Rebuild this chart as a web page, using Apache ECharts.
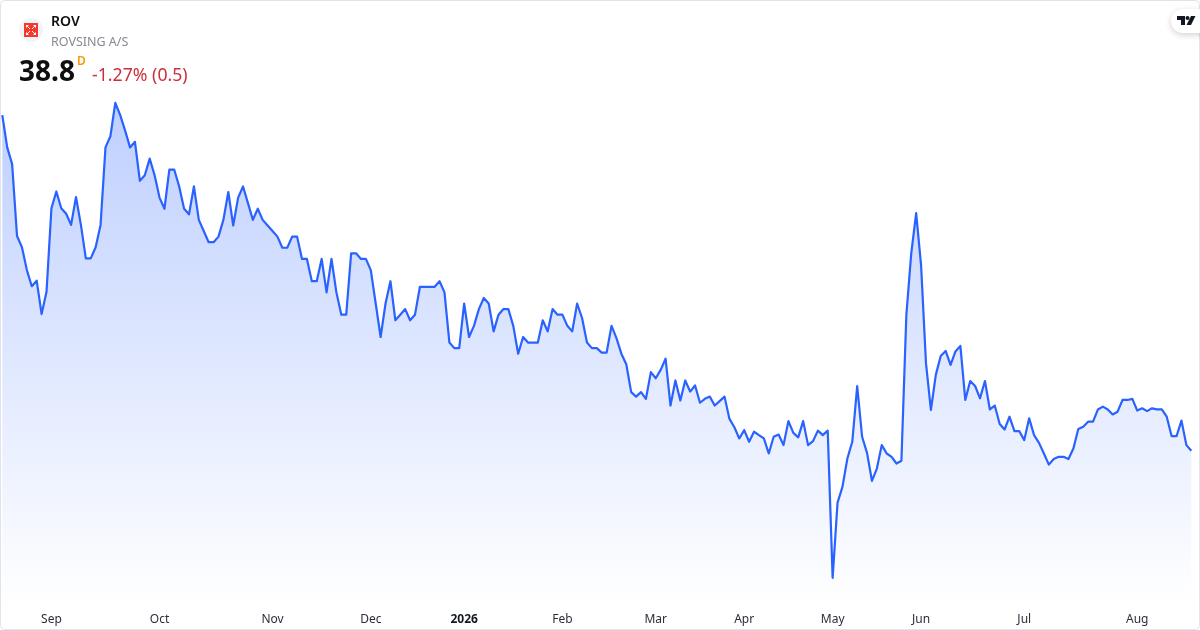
<!DOCTYPE html>
<html><head><meta charset="utf-8">
<style>html,body{margin:0;padding:0;background:#fff}#c{width:1200px;height:630px}</style>
<script src="https://cdn.jsdelivr.net/npm/echarts@6/dist/echarts.min.js"></script>
</head><body><div id="c"></div>
<script>
const symbol = 'ROV';
const companyName = 'ROVSING A/S';
const lastPrice = '38.8';
const changeText = '-1.27% (0.5)';
const prices = [
68.9,66,64.5,58.05,57.05,55,53.55,54.05,51.05,53.05,60.55,62.05,60.55,60.05,59.05,61.55,59.05,56.05,56.05,57.05,59.05,66,67,70,68.9,67.5,66,66.5,63,63.5,65,63.5,61.5,60.5,64,64,62.5,60.5,60,62.5,59.5,58.5,57.5,57.5,58,59.5,62,59,61.5,62.5,61,59.5,60.5,59.5,59,58.5,58,57,57,58,58,
56,56,54,54,56,53,56,53,51,51,56.5,56.5,56,56,55,52,49,52,54,50.5,51,51.5,50.5,51,53.5,53.5,53.5,53.5,54,53,48.5,48,48,52,49,50,51.5,52.5,52,49.5,51,51.5,51.5,50,47.5,49,48.5,48.5,48.5,50.5,49.5,51.5,51,51,50,49.5,52,50.7,48.5,48,48,
47.6,47.6,50,48.9,47.5,46.55,44.05,43.65,44.05,43.45,45.85,45.3,46.05,47.05,42.85,45.1,43.3,45.1,44.1,44.65,43.1,43.45,43.65,42.85,43.25,43.65,41.65,40.9,39.9,40.65,39.6,40.5,40.2,39.9,38.55,40.05,40.25,39.3,41.45,40.4,40,41.45,39.3,39.65,40.6,40.2,40.6,27.4,34.15,35.55,38.1,39.6,44.6,40.05,38.6,36.1,37.2,39.3,38.55,38.25,37.65,37.9,
50.95,56.5,60.1,55.45,46.65,42.45,45.6,47.3,47.75,46.5,47.7,48.2,43.35,45.05,44.6,43.5,45.05,42.5,42.85,41.2,40.7,41.85,40.55,40.55,39.75,41.7,40.2,39.5,38.55,37.55,38.05,38.25,38.25,38.05,39,40.75,40.95,41.4,41.4,42.5,42.75,42.5,42.05,42.3,43.35,43.35,43.45,42.4,42.6,42.35,42.6,42.5,42.5,41.85,40.1,40.1,41.5,39.3,38.8
];
const monthLabels = ['Sep','Oct','Nov','Dec','2026','Feb','Mar','Apr','May','Jun','Jul','Aug'];
const monthStarts = [10,32,55,75,94,114,133,151,169,187,208,231];
const categories = prices.map((_, i) => { const k = monthStarts.indexOf(i); return k >= 0 ? monthLabels[k] : ''; });
const FONT = '"Noto Sans","Open Sans",sans-serif';
const chart = echarts.init(document.getElementById('c'), null, {renderer:'canvas', width:1200, height:630});
const tri = (pts) => ({type:'polygon',z:53,shape:{points:pts},style:{fill:'#fff'}});
const ray = (p) => ({type:'polyline',z:53,shape:{points:p},style:{stroke:'#fff',lineWidth:1}});
chart.setOption({
  animation:false,
  backgroundColor:'#fff',
  grid:{left:2.3, width:1189, top:47.07, height:557.5, containLabel:false},
  xAxis:{type:'category', data:categories, boundaryGap:false,
    axisLine:{show:false}, axisTick:{show:false}, splitLine:{show:false},
    axisLabel:{interval:(i,v)=>v!=='', margin:9, hideOverlap:false, color:'#2a2e39', fontSize:12, fontFamily:FONT,
      formatter:v=>v==='2026'?'{b|2026}':v, rich:{b:{fontWeight:700,color:'#131722',fontSize:12,fontFamily:FONT}}}},
  yAxis:{type:'value', min:25, max:75, show:false},
  series:[{type:'line', data:prices, symbol:'none', smooth:false, clip:false,
    lineStyle:{color:'#2962FF', width:2.2, join:'round'},
    areaStyle:{origin:'start', opacity:1, color:new echarts.graphic.LinearGradient(0,0,0,1,[{offset:0,color:'rgba(41,98,255,0.3)'},{offset:1,color:'rgba(41,98,255,0)'}])}
  }],
  graphic:[
    {type:'rect',silent:true,z:50,shape:{x:.5,y:.5,width:1199,height:629,r:4},style:{fill:'none',stroke:'#e0e3eb',lineWidth:1}},
    {type:'circle',z:51,shape:{cx:31,cy:30,r:12},style:{fill:'#f0f3fa'}},
    {type:'rect',z:52,shape:{x:24,y:23,width:14,height:14},style:{fill:'#f7372a'}},
    tri([[26,25],[29,25],[26,28]]),tri([[36,25],[33,25],[36,28]]),tri([[26,35],[29,35],[26,32]]),tri([[36,35],[33,35],[36,32]]),
    ray([[27,26],[30,29]]),ray([[35,26],[32,29]]),ray([[27,34],[30,31]]),ray([[35,34],[32,31]]),
    {type:'text',z:53,style:{x:51,y:22,text:symbol,fill:'#0f0f0f',font:'600 14px '+FONT,textVerticalAlign:'middle'}},
    {type:'text',z:53,style:{x:51,y:42,text:companyName,fill:'#868993',font:'12.5px '+FONT,textVerticalAlign:'middle'}},
    {type:'text',z:53,style:{x:19,y:73.5,text:lastPrice,fill:'#0f0f0f',font:'700 28px '+FONT,textVerticalAlign:'middle'}},
    {type:'text',z:53,style:{x:77,y:62,text:'D',fill:'#ff9800',font:'600 12px '+FONT,textVerticalAlign:'middle'}},
    {type:'text',z:53,style:{x:92,y:76,text:changeText,fill:'#cc2f3c',font:'17.7px '+FONT,textVerticalAlign:'middle'}},
    {type:'rect',z:54,shape:{x:1171,y:9,width:40,height:24,r:12},style:{fill:'#fff',shadowBlur:6,shadowColor:'rgba(0,0,0,0.18)',shadowOffsetY:2}},
    {type:'polygon',z:56,shape:{points:[[1177,16],[1185,16],[1185,25],[1181,25],[1181,20],[1177,20]]},style:{fill:'#131722'}},
    {type:'circle',z:56,shape:{cx:1187.5,cy:18,r:2},style:{fill:'#131722'}},
    {type:'polygon',z:56,shape:{points:[[1191,16],[1195.5,16],[1191,25],[1186.5,25]]},style:{fill:'#131722'}}
  ]
});
</script></body></html>
